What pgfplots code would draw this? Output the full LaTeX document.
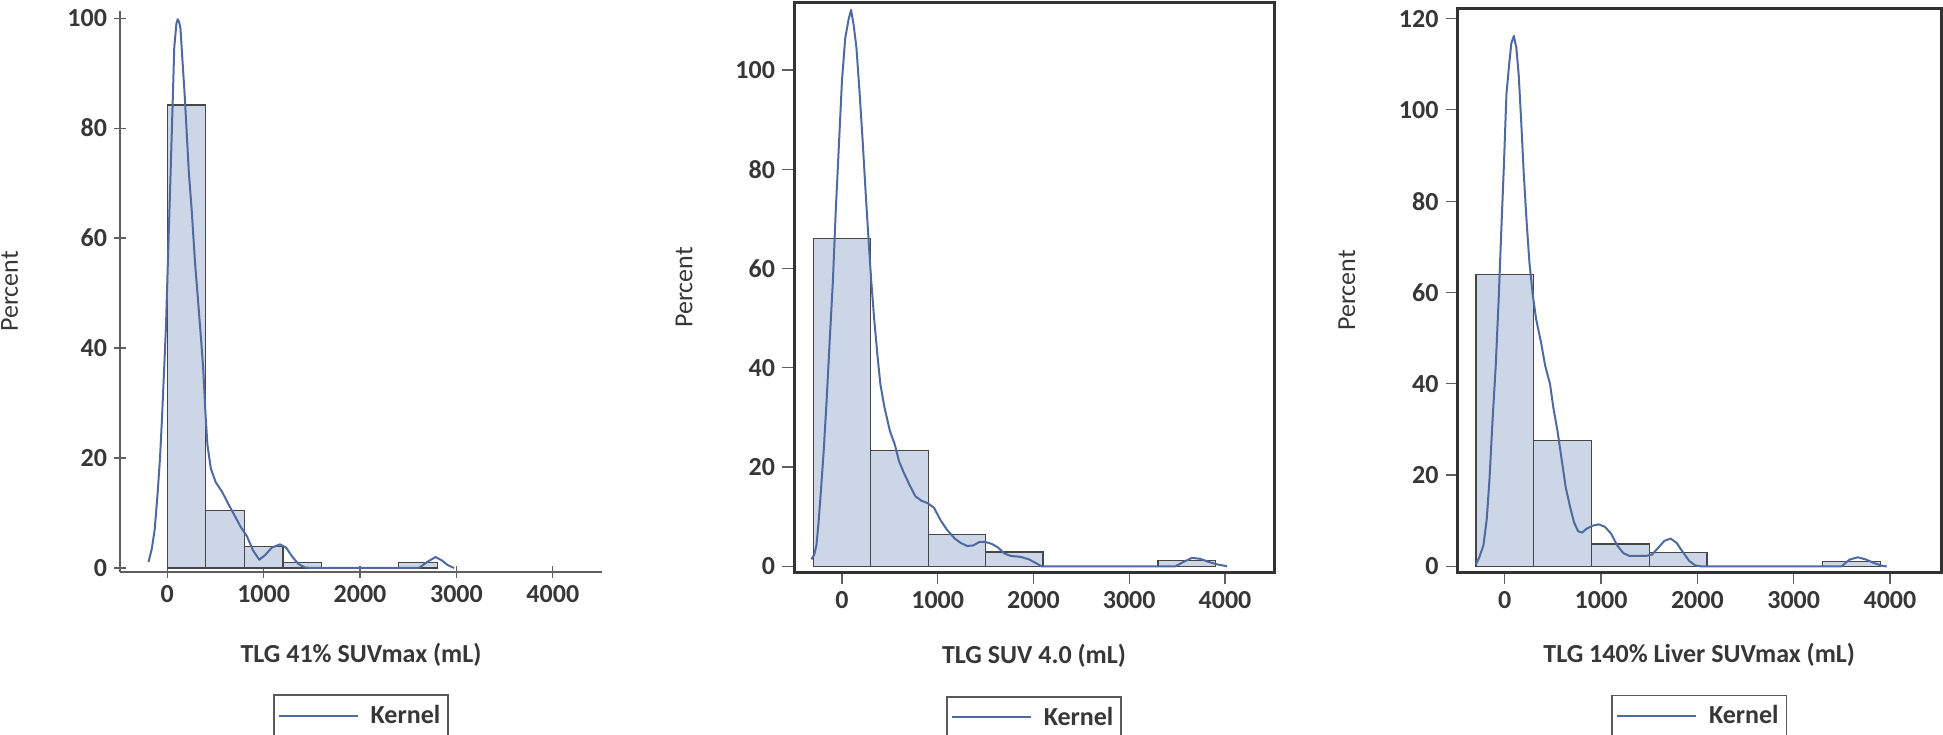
\documentclass[border=0pt]{standalone}
\usepackage{fontspec}
\setmainfont{Carlito}
\usepackage{pgfplots}
\pgfplotsset{compat=1.18}
\definecolor{barfill}{RGB}{204,214,230}
\definecolor{baredge}{RGB}{70,70,70}
\definecolor{kern}{RGB}{78,106,160}
\definecolor{axgray}{RGB}{95,95,95}
\definecolor{txt}{RGB}{55,55,55}
\pgfplotsset{
  histo/.style={
    scale only axis,
    xmin=-490, xmax=4510,
    xtick={0,1000,2000,3000,4000},
    tick align=outside,
    major tick length=6pt,
    tick style={axgray, line width=0.6pt},
    xtick pos=bottom, ytick pos=left,
    /pgf/number format/assume math mode=true,
    /pgf/number format/1000 sep={},
    tick label style={font=\fontsize{13}{15}\selectfont\bfseries, text=txt},
    xlabel style={font=\fontsize{13}{15}\selectfont\bfseries, text=txt, at={(axis description cs:0.5,-0.147)}, anchor=center},
    ylabel style={font=\fontsize{13}{15}\selectfont, text=txt, at={(axis description cs:-0.229,0.5)}, anchor=center, rotate=0},
    ylabel={Percent},
    legend style={at={(axis description cs:0.5,-0.218)}, anchor=north, draw=black!65, line width=0.8pt,
      font=\fontsize{13}{15}\selectfont\bfseries, text=txt, inner xsep=2pt, inner ysep=3pt},
    legend image code/.code={\draw[#1] (0pt,0pt) -- (39.5pt,0pt);},
  },
  bars/.style={ybar interval, fill=barfill, draw=baredge, line width=0.6pt, forget plot},
  kernline/.style={kern, line width=1pt, line join=round, no markers},
}
\begin{document}
\begin{tikzpicture}
\useasboundingbox (0,0) rectangle (971.5pt,367pt);
% Panel 1
\begin{axis}[histo, at={(60pt,81pt)}, anchor=south west, width=241pt, height=280.5pt,
  axis x line=bottom, axis y line=left, axis line style={-, axgray, line width=1pt},
  ymin=-0.73, ymax=101.3, ytick={0,20,40,60,80,100},
  xlabel={TLG 41\% SUVmax (mL)}]
\addplot[bars] coordinates {(0,84.2) (400,10.5) (800,3.9) (1200,1.05) (1600,1.05)};
\addplot[bars] coordinates {(2400,1.05) (2800,1.05)};
\addplot[kernline] coordinates {
(-194,1.1) (-160,3.5) (-130,7) (-100,13.5) (-75,20) (-56,26.6) (-30,37) (-13,44)
(9,57) (30,69) (52,82) (73,94.7) (95,99) (108,99.8) (125,99.2) (138,98) (159,92)
(181,86) (224,72) (254,65) (288,55.6) (323,47.9) (353,41.1) (374,36) (396,28.3)
(417,22.4) (452,18.1) (503,15.6) (568,13.9) (632,11.7) (697,9.6) (761,7.5) (826,5.8)
(890,3.2) (955,1.5) (1019,2.4) (1084,3.7) (1170,4.3) (1234,3.7) (1299,2) (1363,0.7)
(1428,0.1) (1500,0) (2611,0) (2697,1.1) (2783,2) (2847,1.4) (2912,0.5) (2976,0)};
\addlegendentry{\hspace{4pt}Kernel\hspace{3pt}}
\end{axis}
% Panel 2
\begin{axis}[histo, at={(397pt,81pt)}, anchor=south west, width=240pt, height=284.5pt,
  axis line style={black!80, line width=1.5pt},
  xmin=-501, xmax=4512, ymin=-1.15, ymax=113.5, ytick={0,20,40,60,80,100},
  xlabel={TLG SUV 4.0 (mL)}]
\addplot[bars] coordinates {(-300,66.0) (300,23.4) (900,6.4) (1500,2.9) (2100,2.9)};
\addplot[bars] coordinates {(3300,1.1) (3900,1.1)};
\addplot[kernline] coordinates {
(-319,1.4) (-289,2.4) (-267,4.2) (-246,8.5) (-224,14.1) (-190,23.5) (-159,33.9)
(-129,45.2) (-95,57.4) (-65,71.6) (-30,85.7) (0,97.9) (34,106.4) (69,110.2) (95,112.1)
(121,109.2) (151,104.5) (185,95.1) (216,85.7) (250,74.4) (280,65) (306,57.4) (336,49.9)
(371,42.4) (401,36.7) (444,32) (500,27.3) (552,24.5) (595,21.2) (647,18.8) (703,16.5)
(767,14.1) (832,13.2) (897,12.7) (961,11.8) (1026,9.4) (1091,7.5) (1177,5.6) (1241,4.7)
(1306,4.1) (1371,4.2) (1435,4.9) (1500,4.9) (1565,4.5) (1629,3.8) (1694,2.6) (1759,2.1)
(1866,1.9) (1953,1.4) (2039,0.5) (2082,0) (3483,0) (3569,0.9) (3655,1.7) (3741,1.5)
(3828,0.9) (3914,0.4) (4022,0)};
\addlegendentry{\hspace{4pt}Kernel\hspace{3pt}}
\end{axis}
% Panel 3
\begin{axis}[histo, at={(728.75pt,81pt)}, anchor=south west, width=241.75pt, height=281.5pt,
  axis line style={black!80, line width=1.5pt},
  xmin=-491, xmax=4530, ymin=-1.23, ymax=122.1, ytick={0,20,40,60,80,100,120},
  xlabel={TLG 140\% Liver SUVmax (mL)}]
\addplot[bars] coordinates {(-300,63.9) (300,27.6) (900,4.9) (1500,3.1) (2100,3.1)};
\addplot[bars] coordinates {(3300,1.0) (3900,1.0)};
\addplot[kernline] coordinates {
(-299,0.5) (-265,2) (-222,4.6) (-188,10.2) (-158,19.4) (-128,31.7) (-94,44) (-64,58.3)
(-38,72.7) (-9,88) (17,103.4) (43,109.5) (68,114.6) (94,116.2) (120,113.6) (145,107.5)
(171,97.2) (197,86) (226,75.7) (256,66.5) (291,59.4) (325,54.2) (376,49.1) (419,44)
(470,39.9) (504,34.8) (547,29.7) (590,23.5) (632,17.4) (675,13.3) (718,9.7) (761,7.7)
(803,7.4) (846,8.2) (910,8.9) (974,9.2) (1038,8.7) (1103,7.2) (1167,4.6) (1231,2.9)
(1295,2.3) (1380,2.3) (1466,2.3) (1530,2.6) (1594,4.1) (1658,5.6) (1722,6.1) (1786,5.1)
(1850,3.1) (1915,1.2) (1979,0.2) (2043,0) (3496,0) (3581,1.5) (3667,2) (3752,1.5)
(3838,0.7) (3923,0.1) (3966,0)};
\addlegendentry{\hspace{4pt}Kernel\hspace{3pt}}
\end{axis}
\end{tikzpicture}
\end{document}
